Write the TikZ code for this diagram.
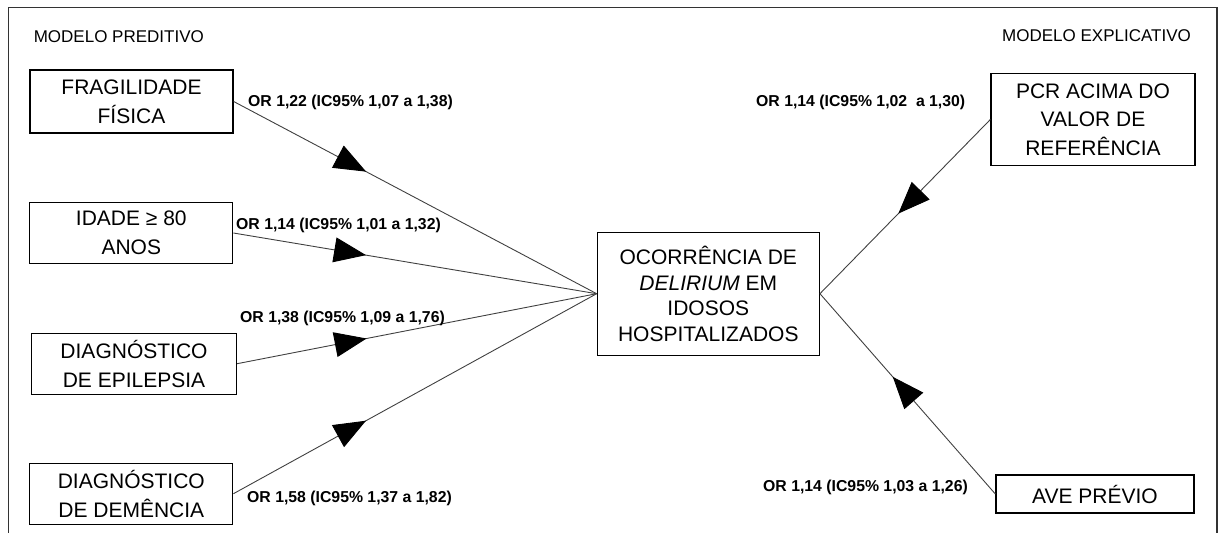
\documentclass[tikz,border=0pt]{standalone}
\usepackage{fontspec}
\setmainfont{Liberation Sans}
\usetikzlibrary{arrows.meta,decorations.markings}
\begin{document}
\begin{tikzpicture}[x=1bp,y=-1bp,
  factor/.style={draw=black, line width=1.3bp, inner sep=0pt, align=center,
                 font=\fontsize{21bp}{29bp}\selectfont},
  heading/.style={inner sep=0pt, font=\fontsize{17bp}{20bp}\selectfont},
  orlabel/.style={inner sep=0pt, anchor=west, font=\bfseries\fontsize{15.8bp}{19bp}\selectfont},
  link/.style={draw=black!75, line width=0.9bp},
  midarrow/.style={decoration={markings,
      mark=at position #1 with {\arrow{Triangle[length=32bp,width=25bp,color=black,fill=black]}}},
      postaction={decorate}},
  frameline/.style={draw=black!80, line width=1.4bp}]

\useasboundingbox (0,0) rectangle (1219,533);

% outer frame, open at the bottom
\draw[frameline] (8.5,533) -- (8.5,7.5) -- (1217,7.5) -- (1217,533);

% section headings
\node[heading, anchor=west] (pred) at (33.6,36.7) {MODELO PREDITIVO};
\node[heading, anchor=east] (expl) at (1191,36) {MODELO EXPLICATIVO};

% predictive factors
\node[factor, minimum width=203bp, minimum height=63bp] (fis) at (131.5,101.5) {FRAGILIDADE\\FÍSICA};
\node[factor, minimum width=203bp, minimum height=61bp] (idade) at (131.3,233) {IDADE ≥ 80\\ANOS};
\node[factor, minimum width=205bp, minimum height=61bp] (epi) at (134,363.7) {DIAGNÓSTICO\\DE EPILEPSIA};
\node[factor, minimum width=203bp, minimum height=61bp] (dem) at (131.3,493.7) {DIAGNÓSTICO\\DE DEMÊNCIA};

% outcome
\node[factor, minimum width=222bp, minimum height=123bp,
      font=\fontsize{21bp}{25.5bp}\selectfont] (del) at (708.3,293.7)
      {OCORRÊNCIA DE\\\textit{DELIRIUM} EM\\IDOSOS\\HOSPITALIZADOS};

% explanatory factors
\node[factor, minimum width=204bp, minimum height=92bp,
      font=\fontsize{21bp}{28.3bp}\selectfont] (pcr) at (1093,119.5)
      {PCR ACIMA DO\\VALOR DE\\REFERÊNCIA};
\node[factor, minimum width=198bp, minimum height=38bp] (ave) at (1095,494) {AVE PRÉVIO};

% connectors
\draw[link, midarrow=0.365] (fis.east) -- (del.west);
\draw[link, midarrow=0.365] (idade.east) -- (del.west);
\draw[link, midarrow=0.36] (epi.east) -- (del.west);
\draw[link, midarrow=0.365] (dem.east) -- (del.west);
\draw[link, midarrow=0.54] (pcr.west) -- (del.east);
\draw[link, midarrow=0.585] (ave.west) -- (del.east);

% odds ratios
\node[orlabel] (or1) at (248,102) {OR 1,22 (IC95\% 1,07 a 1,38)};
\node[orlabel] (or2) at (236,225) {OR 1,14 (IC95\% 1,01 a 1,32)};
\node[orlabel] (or3) at (240,318) {OR 1,38 (IC95\% 1,09 a 1,76)};
\node[orlabel] (or4) at (247,498) {OR 1,58 (IC95\% 1,37 a 1,82)};
\node[orlabel] (or5) at (756,102) {OR 1,14 (IC95\% 1,02\ \ a 1,30)};
\node[orlabel] (or6) at (763,487) {OR 1,14 (IC95\% 1,03 a 1,26)};

\end{tikzpicture}
\end{document}
